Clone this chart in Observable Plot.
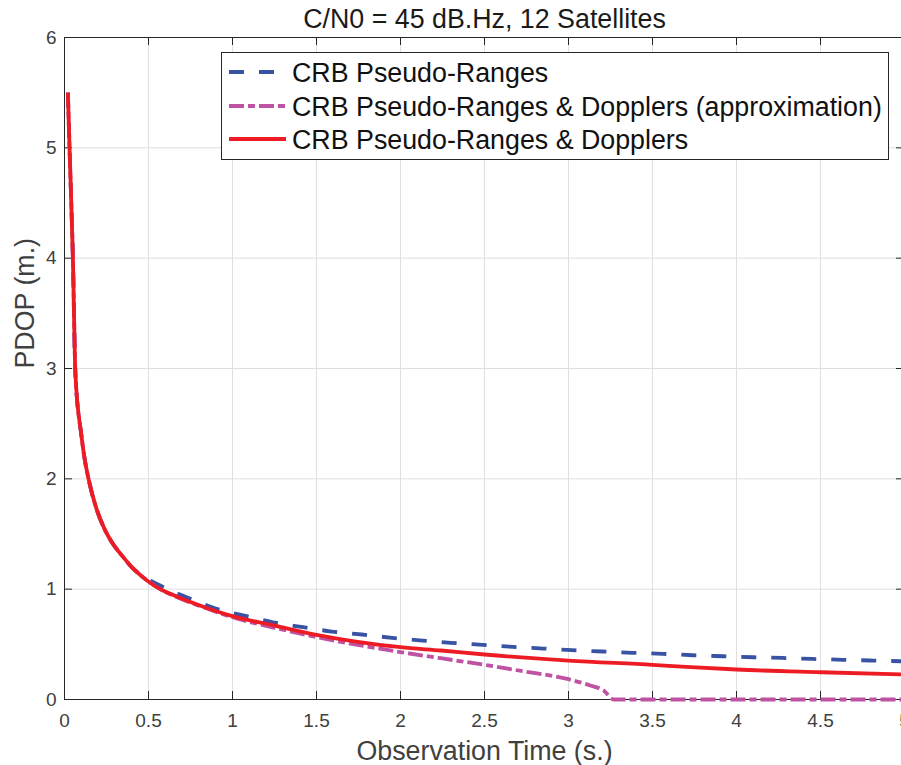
<!DOCTYPE html>
<html>
<head>
<meta charset="utf-8">
<script src="https://cdn.jsdelivr.net/npm/d3@7"></script>
<script src="https://cdn.jsdelivr.net/npm/@observablehq/plot@0.6"></script>
<style>
  html, body { margin: 0; padding: 0; background: white; }
  #wrap { position: relative; width: 901px; height: 765px; overflow: hidden; font-family: "Liberation Sans", Arial, Helvetica, sans-serif; }
  #chart svg { max-width: none !important; display: block; }
  #legend { position: absolute; left: 221px; top: 52px; width: 668px; height: 108px; box-sizing: border-box; border: 1px solid #262626; background: white; }
  #legend svg { display: block; }
</style>
</head>
<body>
<div id="wrap">
  <div id="chart"></div>
  <div id="legend"></div>
</div>
<script>
// ---- Data ----
const titleText = "C/N0 = 45 dB.Hz, 12 Satellites";
const xLabel = "Observation Time (s.)";
const yLabel = "PDOP (m.)";
const seriesNames = [
  "CRB Pseudo-Ranges",
  "CRB Pseudo-Ranges & Dopplers (approximation)",
  "CRB Pseudo-Ranges & Dopplers"
];
const xTicks = [0, 0.5, 1, 1.5, 2, 2.5, 3, 3.5, 4, 4.5, 5];
const yTicks = [0, 1, 2, 3, 4, 5, 6];

// CRB Pseudo-Ranges (blue dashed)
const tBlue = [0.02, 0.03, 0.05, 0.065, 0.1, 0.12, 0.143, 0.19, 0.24, 0.28, 0.35, 0.4, 0.45, 0.56, 0.73, 0.9, 1.07, 1.24, 1.42, 1.59, 1.77, 1.95, 2.13, 2.3, 2.49, 2.67, 2.85, 3.02, 3.2, 3.38, 3.56, 3.74, 3.92, 4.1, 4.27, 4.45, 4.63, 4.81, 5.0];
const vBlue = [5.5, 5.0, 4.0, 2.95, 2.4, 2.18, 2.0, 1.73, 1.54, 1.43, 1.29, 1.2, 1.135, 1.04, 0.925, 0.825, 0.76, 0.70, 0.655, 0.616, 0.589, 0.559, 0.534, 0.514, 0.495, 0.477, 0.462, 0.447, 0.435, 0.423, 0.414, 0.401, 0.392, 0.383, 0.377, 0.368, 0.36, 0.353, 0.346];

// CRB Pseudo-Ranges & Dopplers (approximation) (magenta dash-dot)
const tMag = [0.02, 0.03, 0.05, 0.065, 0.1, 0.12, 0.143, 0.19, 0.24, 0.28, 0.35, 0.4, 0.45, 0.57, 0.65, 0.81, 1.0, 1.25, 1.5, 2.0, 2.24, 2.5, 2.73, 3.0, 3.13, 3.21, 3.27, 3.5, 4.0, 4.5, 5.0];
const vMag = [5.5, 5.0, 4.0, 2.95, 2.4, 2.18, 2.0, 1.73, 1.54, 1.43, 1.29, 1.2, 1.13, 1.0, 0.94, 0.845, 0.745, 0.65, 0.565, 0.43, 0.374, 0.314, 0.256, 0.184, 0.127, 0.081, 0.0, 0.0, 0.0, 0.0, 0.0];

// CRB Pseudo-Ranges & Dopplers (red solid)
const tRed = [0.02, 0.03, 0.05, 0.065, 0.1, 0.12, 0.143, 0.19, 0.24, 0.28, 0.35, 0.4, 0.45, 0.57, 0.65, 0.81, 1.0, 1.25, 1.5, 2.0, 2.24, 2.5, 3.0, 3.5, 3.7, 4.0, 4.5, 5.0];
const vRed = [5.5, 5.0, 4.0, 2.95, 2.4, 2.18, 2.0, 1.73, 1.54, 1.43, 1.29, 1.2, 1.13, 1.0, 0.945, 0.85, 0.755, 0.67, 0.586, 0.474, 0.444, 0.408, 0.353, 0.314, 0.296, 0.272, 0.247, 0.226];

const colors = ["#3953a4", "#bf52a2", "#ed1c24"];
const dashes = ["15,15", "15,4,7,4", null];

// ---- Build tables ----
const toRows = (ts, vs) => ts.map((t, i) => ({t, v: vs[i]}));
const series = [toRows(tBlue, vBlue), toRows(tMag, vMag), toRows(tRed, vRed)];

const W = 906, H = 765, mL = 64, mR = 2, mT = 37, mB = 66;
const frameW = W - mL - mR, frameH = H - mT - mB;
const tickLen = 8;
const axisColor = "#262626";
const textColor = "#404040";
const bigFont = 26.8;

const plot = Plot.plot({
  width: W,
  height: H,
  marginLeft: mL,
  marginRight: mR,
  marginTop: mT,
  marginBottom: mB,
  x: {domain: [0, 5]},
  y: {domain: [0, 6]},
  style: {fontFamily: '"Liberation Sans", Arial, Helvetica, sans-serif', background: "white", overflow: "visible", maxWidth: "none"},
  marks: [
    Plot.gridX(xTicks, {stroke: "#dfdfdf", strokeOpacity: 1, strokeWidth: 1}),
    Plot.gridY(yTicks, {stroke: "#dfdfdf", strokeOpacity: 1, strokeWidth: 1}),
    Plot.frame({stroke: axisColor, strokeWidth: 1}),
    Plot.tickX(xTicks, {x: d => d, insetTop: frameH - tickLen, stroke: axisColor}),
    Plot.tickX(xTicks, {x: d => d, insetBottom: frameH - tickLen, stroke: axisColor}),
    Plot.tickY(yTicks, {y: d => d, insetRight: frameW - tickLen, stroke: axisColor}),
    Plot.tickY(yTicks, {y: d => d, insetLeft: frameW - tickLen, stroke: axisColor}),
    Plot.axisX(xTicks, {anchor: "bottom", tickSize: 0, tickPadding: 14, fontSize: 19, color: textColor, label: null, tickFormat: d => String(d)}),
    Plot.axisY(yTicks, {anchor: "left", tickSize: 0, tickPadding: 8, fontSize: 19, color: textColor, label: null, tickFormat: d => String(d)}),
    ...series.map((rows, i) => Plot.line(rows, {
      x: "t", y: "v", stroke: colors[i], strokeWidth: 3.8,
      strokeDasharray: dashes[i], strokeLinejoin: "round", strokeLinecap: "butt", curve: "monotone-x"
    })),
    Plot.text([titleText], {frameAnchor: "top", dy: -10, lineAnchor: "bottom", fontSize: bigFont, fill: "#1a1a1a"}),
    Plot.text([xLabel], {frameAnchor: "bottom", dy: 60, lineAnchor: "bottom", fontSize: bigFont, fill: textColor}),
    Plot.text([yLabel], {frameAnchor: "left", dx: -31, rotate: -90, lineAnchor: "bottom", fontSize: bigFont, fill: textColor})
  ]
});
document.getElementById("chart").appendChild(plot);

// ---- Legend (inside plot area, top right) ----
const lg = d3.select("#legend").append("svg").attr("width", 666).attr("height", 106);
const rowY = [19, 53, 86];
seriesNames.forEach((name, i) => {
  lg.append("line")
    .attr("x1", 7).attr("x2", 64).attr("y1", rowY[i]).attr("y2", rowY[i])
    .attr("stroke", colors[i]).attr("stroke-width", 3.8)
    .attr("stroke-dasharray", dashes[i]);
  lg.append("text")
    .attr("x", 70).attr("y", rowY[i] + 9.5)
    .attr("font-size", bigFont)
    .attr("font-family", '"Liberation Sans", Arial, Helvetica, sans-serif')
    .attr("fill", "#111")
    .text(name);
});
</script>
</body>
</html>
